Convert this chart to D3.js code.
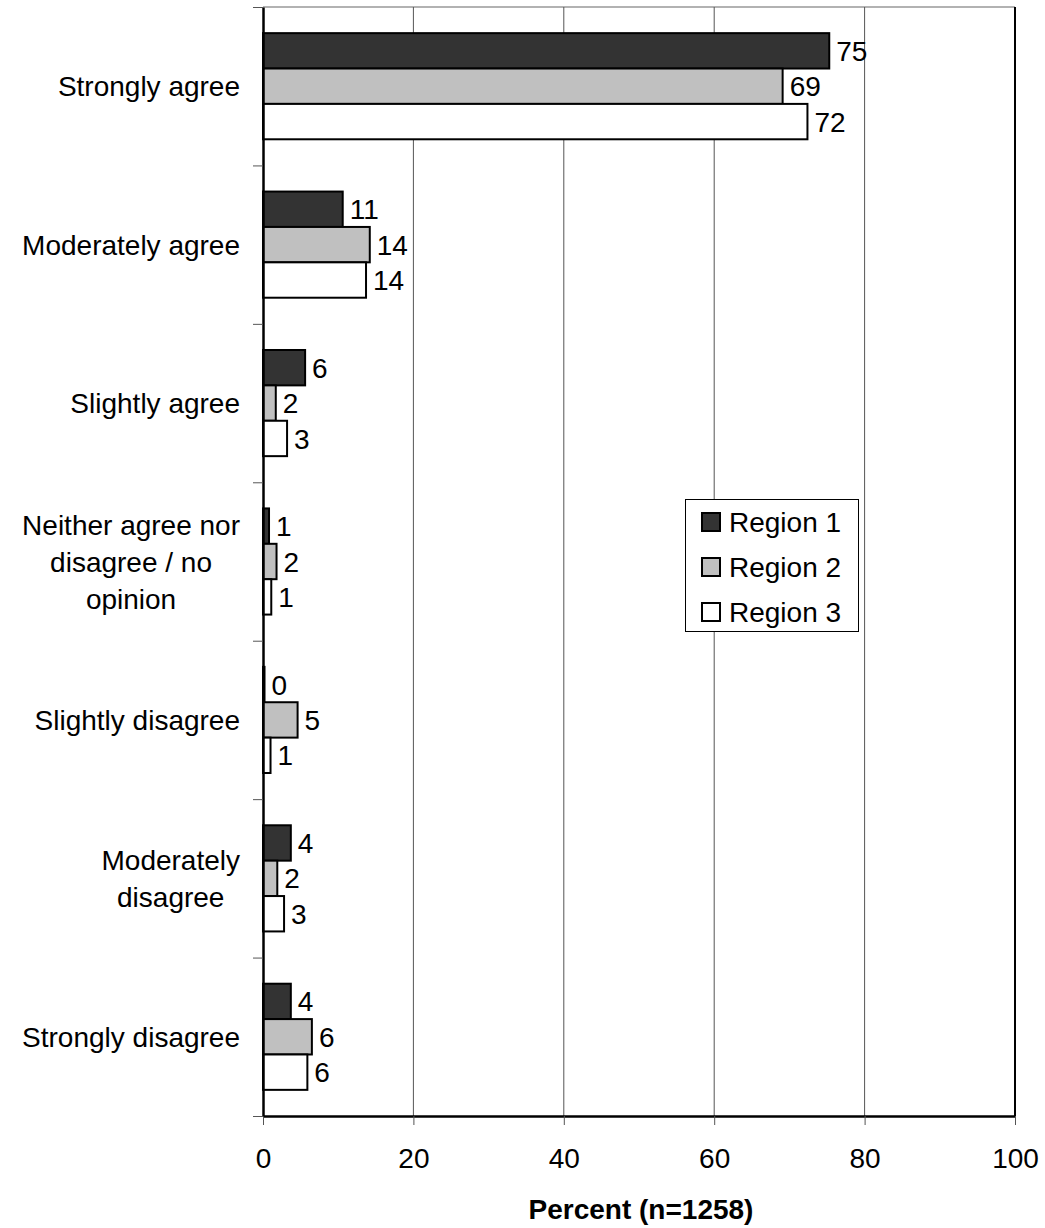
<!DOCTYPE html>
<html><head><meta charset="utf-8">
<script src="https://cdn.jsdelivr.net/npm/d3@7"></script>
<style>body{margin:0;background:#fff}svg{display:block}text{font-family:"Liberation Sans",Arial,sans-serif}</style>
</head><body>
<script>
const categories = [["Strongly agree"],["Moderately agree"],["Slightly agree"],["Neither agree nor","disagree / no","opinion"],["Slightly disagree"],["Moderately","disagree"],["Strongly disagree"]];
const seriesNames = ["Region 1","Region 2","Region 3"];
const region1 = [75.3,10.6,5.6,0.8,0.2,3.7,3.7];
const region2 = [69.1,14.2,1.7,1.8,4.6,1.9,6.5];
const region3 = [72.4,13.7,3.2,1.1,1.0,2.8,5.9];
const labels1 = [75,11,6,1,0,4,4];
const labels2 = [69,14,2,2,5,2,6];
const labels3 = [72,14,3,1,1,3,6];
const xTicks = [0,20,40,60,80,100];
const colors = ["#333333","#c0c0c0","#ffffff"];

const W=1045,H=1228,FS=28;
const m={left:263,top:7,right:1015,bottom:1116};
const svg=d3.select("body").append("svg").attr("width",W).attr("height",H);
const x=d3.scaleLinear().domain([0,100]).range([m.left,m.right]);
const y=d3.scaleBand().domain(d3.range(categories.length)).range([m.top,m.bottom]).paddingInner(0.33).paddingOuter(0.165);
const ySub=d3.scaleBand().domain(d3.range(3)).range([0,y.bandwidth()]);

svg.append("line").attr("x1",m.left).attr("x2",m.right).attr("y1",m.top).attr("y2",m.top).attr("stroke","#999").attr("stroke-width",1.5);
svg.append("g").selectAll("line").data(xTicks.slice(1,-1)).join("line")
 .attr("x1",d=>x(d)).attr("x2",d=>x(d)).attr("y1",m.top).attr("y2",m.bottom).attr("stroke","#555").attr("stroke-width",1);
svg.append("line").attr("x1",m.right).attr("x2",m.right).attr("y1",m.top).attr("y2",m.bottom).attr("stroke","#000").attr("stroke-width",2);

const series=[region1,region2,region3];
const labs=[labels1,labels2,labels3];
series.forEach((vals,s)=>{
  const g=svg.append("g");
  g.selectAll("rect").data(vals).join("rect")
   .attr("x",x(0)).attr("y",(d,i)=>y(i)+ySub(s)).attr("width",d=>x(d)-x(0)).attr("height",ySub.bandwidth())
   .attr("fill",colors[s]).attr("stroke","#000").attr("stroke-width",2);
  g.selectAll("text").data(vals).join("text")
   .attr("x",d=>x(d)+7).attr("y",(d,i)=>y(i)+ySub(s)+ySub.bandwidth()/2).attr("dy","0.36em")
   .attr("font-size",FS).text((d,i)=>labs[s][i]);
});

const xa=svg.append("g").attr("transform",`translate(0,${m.bottom})`).call(d3.axisBottom(x).tickValues(xTicks).tickSize(9).tickPadding(23).tickSizeOuter(0));
xa.select(".domain").attr("stroke-width",2.5);
xa.selectAll(".tick line").attr("stroke","#555");
xa.selectAll("text").attr("font-size",FS).attr("font-family","Liberation Sans, Arial, sans-serif");

const yLine=d3.scaleLinear().domain([0,categories.length]).range([m.top,m.bottom]);
const ya=svg.append("g").attr("transform",`translate(${m.left},0)`).call(d3.axisLeft(yLine).ticks(7).tickSize(10).tickFormat("").tickSizeOuter(0));
ya.select(".domain").attr("stroke-width",2.5);
ya.selectAll(".tick line").attr("stroke","#555");

categories.forEach((lines,i)=>{
  const g=svg.append("text").attr("font-size",FS).attr("text-anchor","middle");
  const lh=37;
  const cy=y(i)+y.bandwidth()/2;
  const t=g.selectAll("tspan").data(lines).join("tspan").attr("y",(d,k)=>cy+(k-(lines.length-1)/2)*lh).attr("dy","0.36em").text(d=>d);
  let maxW=0; t.each(function(){maxW=Math.max(maxW,this.getComputedTextLength());});
  t.attr("x",240-maxW/2);
});

svg.append("text").attr("x",(m.left+m.right)/2+2).attr("y",1219).attr("text-anchor","middle")
 .attr("font-size",FS).attr("font-weight","bold").text("Percent (n=1258)");

const lg=svg.append("g");
lg.append("rect").attr("x",685.5).attr("y",499.5).attr("width",173).attr("height",132).attr("fill","#fff").attr("stroke","#000").attr("stroke-width",1);
seriesNames.forEach((n,s)=>{
  const cy=522+s*45;
  lg.append("rect").attr("x",702).attr("y",cy-9).attr("width",18).attr("height",18).attr("fill",colors[s]).attr("stroke","#000").attr("stroke-width",2);
  lg.append("text").attr("x",729).attr("y",cy).attr("dy","0.36em").attr("font-size",FS).text(n);
});
</script>
</body></html>
